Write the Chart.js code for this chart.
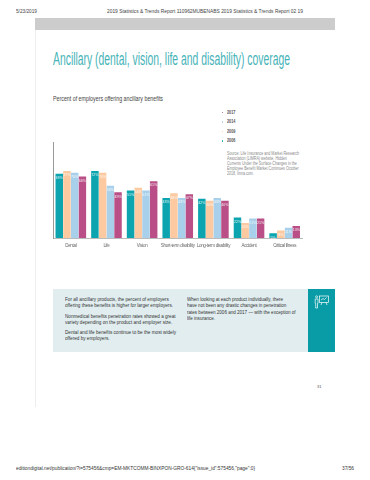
<!DOCTYPE html>
<html><head><meta charset="utf-8">
<script src="https://cdn.jsdelivr.net/npm/chart.js@4"></script>
<style>
html,body{margin:0;padding:0;background:#fff;width:370px;height:480px;overflow:hidden}
#page{position:relative;width:370px;height:480px;font-family:"Liberation Sans",sans-serif;overflow:hidden}
.a{position:absolute;white-space:nowrap;line-height:1;transform-origin:0 0}
canvas{position:absolute;left:0;top:0}
</style></head><body>
<div id="page">
<div class="a" style="left:35px;top:17.5px;width:300px;height:12.5px;background:#ccc"></div>
<div class="a" style="left:35px;top:30px;width:1px;height:377px;background:#eee"></div>
<div class="a" data-w="21" style="left:16px;top:8.5px;font-size:5px;color:#444">5/23/2019</div>
<div class="a" data-w="196" style="left:107px;top:8.5px;font-size:5px;color:#444">2019 Statistics &amp; Trends Report 110962MUBENABS 2019 Statistics &amp; Trends Report 02 19</div>
<div class="a" data-w="237" style="left:53px;top:51px;font-size:17.5px;color:#46b3b8">Ancillary (dental, vision, life and disability) coverage</div>
<div class="a" data-w="110" style="left:53px;top:94.5px;font-size:7px;color:#444">Percent of employers offering ancillary benefits</div>
<div id="legend"></div>
<div class="a" data-w="72" style="left:227px;top:151px;font-size:4.6px;line-height:5.1px;color:#8a8a8a">Source: Life Insurance and Market Research<br>Association (LIMRA) website, Hidden<br>Currents Under the Surface Changes in the<br>Employee Benefit Market Continues October<br>2018, limra.com.</div>
<div class="a" style="left:53px;top:288.5px;width:255px;height:63px;background:#e1edef"></div>
<div class="a" style="left:308px;top:288.5px;width:27px;height:63px;background:#0a9ca6"></div>
<svg class="a" style="left:314px;top:295px" width="16" height="14" viewBox="0 0 16 14" fill="none" stroke="#fff" stroke-width=".7"><circle cx="2.6" cy="1.8" r="1"/><path d="M1.2 4h2.8v4.5h-.5v4.5h-1.8v-4.5h-.5z"/><rect x="5.5" y="1" width="9" height="6.5"/><path d="M7 5l2-1.5 1.5 1 2-2M8 7.5l-1 2.5M12 7.5l1 2.5"/></svg>
<div class="a" data-w="108" style="left:64.5px;top:296px;font-size:5.3px;line-height:6.4px;color:#333">For all ancillary products, the percent of employers<br>offering these benefits is higher for larger employers.</div>
<div class="a" data-w="110.5" style="left:64.5px;top:312.5px;font-size:5.3px;line-height:6.4px;color:#333">Nonmedical benefits penetration rates showed a great<br>variety depending on the product and employer size.</div>
<div class="a" data-w="111" style="left:64.5px;top:329px;font-size:5.3px;line-height:6.4px;color:#333">Dental and life benefits continue to be the most widely<br>offered by employers.</div>
<div class="a" data-w="108.6" style="left:186.7px;top:296px;font-size:5.3px;line-height:6.4px;color:#333">When looking at each product individually, there<br>have not been any drastic changes in penetration<br>rates between 2006 and 2017 — with the exception of<br>life insurance.</div>
<div class="a" style="left:317px;top:385px;font-size:4px;color:#555">31</div>
<div class="a" data-w="239" style="left:16px;top:465.5px;font-size:5px;color:#333">editiondigital.net/publication/?i=575456&amp;cmp=EM-MKTCOMM-BINXPON-GRO-614{"issue_id":575456,"page":0}</div>
<div class="a" data-w="12" style="left:342px;top:465.5px;font-size:5px;color:#333">37/56</div>
<canvas id="c" width="370" height="480"></canvas>
</div>
<script>
const categories = ["Dental","Life","Vision","Short-term disability","Long-term disability","Accident","Critical illness"];
const years = ["2006","2009","2014","2017"];
const values2006 = [69,72,51,43,42,22,5];
const values2009 = [72,70,54,48,40,16,8];
const values2014 = [70,56,51,43,43,21,11];
const values2017 = [66,49,61,47,40,21,13];
const colors = ["#0ca4ae","#fcc9a0","#a8d0ea","#b94f86"];
const allValues = [values2006,values2009,values2014,values2017];

const legendEl = document.getElementById('legend');
[3,2,1,0].forEach((k,i)=>{
  const y = 112.5 + i*9.5;
  legendEl.insertAdjacentHTML('beforeend',
   `<div class="a" style="left:221.5px;top:${y-0.8}px;width:1.8px;height:1.8px;border-radius:50%;background:${colors[k]}"></div>
    <div class="a" data-w="8.5" style="left:226.7px;top:${y-2.8}px;font-size:5.6px;font-weight:bold;color:#555">${years[k]}</div>`);
});

document.querySelectorAll('[data-w]').forEach(el=>{
  const w = el.getBoundingClientRect().width;
  el.style.transform = `scaleX(${parseFloat(el.dataset.w)/w})`;
});

const condense = {
  id:'condense',
  beforeDraw(chart){ chart.ctx.letterSpacing='-0.28px'; }
};
const barLabels = {
  id:'barLabels',
  afterDatasetsDraw(chart){
    const ctx = chart.ctx;
    ctx.save();
    ctx.letterSpacing='0px';
    ctx.font = '3.6px "Liberation Sans"';
    ctx.textAlign = 'center';
    ctx.textBaseline = 'top';
    ctx.fillStyle = 'rgba(255,255,255,.9)';
    chart.data.datasets.forEach((ds,i)=>{
      chart.getDatasetMeta(i).data.forEach((bar,j)=>{
        ctx.fillText(ds.data[j]+'%', bar.x, bar.y+2.5);
      });
    });
    ctx.restore();
  }
};

new Chart(document.getElementById('c'),{
  type:'bar',
  data:{labels:categories,datasets:years.map((y,i)=>({label:y,data:allValues[i],backgroundColor:colors[i],
    categoryPercentage:.865,barPercentage:.97}))},
  options:{
    responsive:false,animation:false,
    layout:{padding:{left:53,right:67.5,top:142,bottom:226}},
    plugins:{legend:{display:false},tooltip:{enabled:false}},
    scales:{
      x:{grid:{display:false,drawTicks:false},border:{color:'#bbb',width:1},
         ticks:{color:'#666',font:{size:4.5,family:'"Liberation Sans"'},padding:5,maxRotation:0,autoSkip:false},
         afterFit(s){s.height=16;}},
      y:{min:0,max:103,grid:{display:false,drawTicks:false},border:{color:'#999',width:1},
         ticks:{display:false},afterFit(s){s.width=0;}}
    }
  },
  plugins:[condense,barLabels]
});
</script>
</body></html>
